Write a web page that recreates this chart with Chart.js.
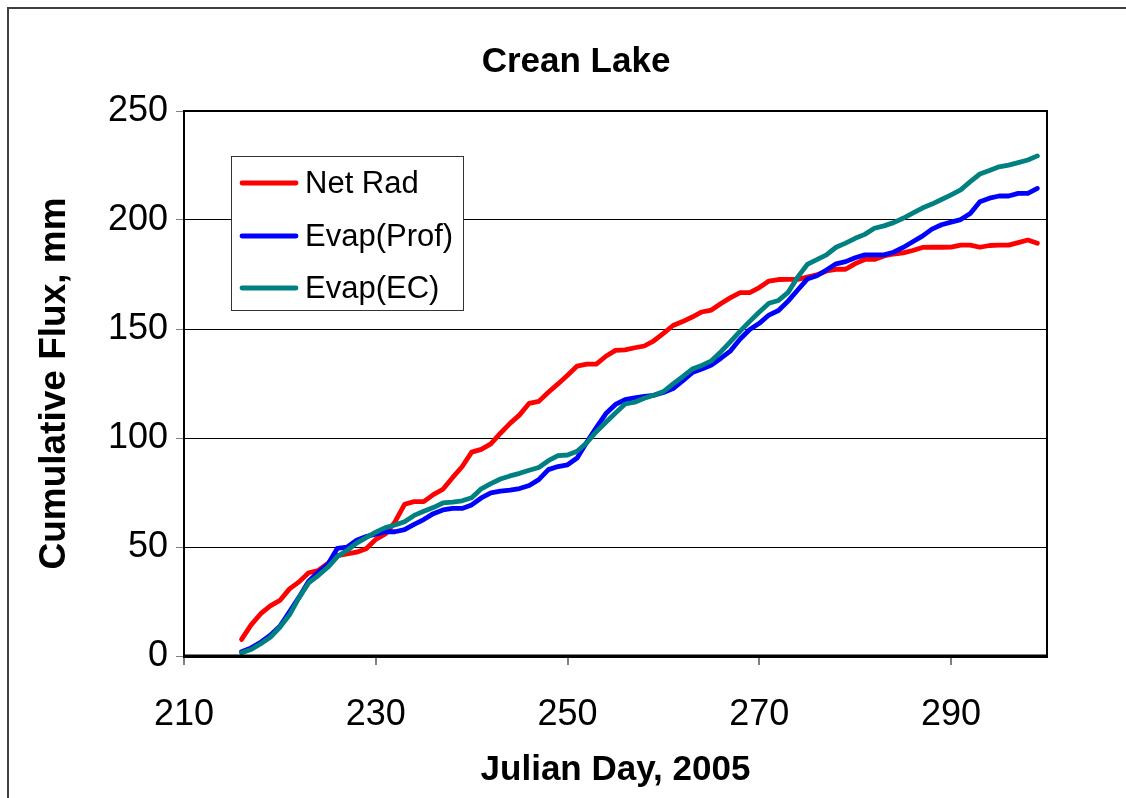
<!DOCTYPE html>
<html>
<head>
<meta charset="utf-8">
<script src="https://cdn.jsdelivr.net/npm/chart.js@4.4.1/dist/chart.umd.min.js"></script>
<style>
  html, body { margin: 0; padding: 0; background: #ffffff; }
  #wrap { width: 1126px; height: 798px; position: relative; }
</style>
</head>
<body>
<div id="wrap"><canvas id="c" width="1126" height="798"></canvas></div>
<script>
const chartTitle = "Crean Lake";
const xTitle = "Julian Day, 2005";
const yTitle = "Cumulative Flux, mm";
const seriesNames = ["Net Rad", "Evap(Prof)", "Evap(EC)"];
const seriesColors = ["#FF0000", "#0000FF", "#008080"];
const xTicks = [210, 230, 250, 270, 290];
const yTicks = [0, 50, 100, 150, 200, 250];

const days = [216,217,218,219,220,221,222,223,224,225,226,227,228,229,230,231,232,233,234,235,236,237,238,239,240,241,242,243,244,245,246,247,248,249,250,251,252,253,254,255,256,257,258,259,260,261,262,263,264,265,266,267,268,269,270,271,272,273,274,275,276,277,278,279,280,281,282,283,284,285,286,287,288,289,290,291,292,293,294,295,296,297,298,299];

const netRad = [7.6,14.3,19.4,23,25.5,30.8,34,38.2,39.2,42.5,46,46.8,47.6,49.2,53.5,56,61.5,69.6,70.8,70.8,74,76.5,81.8,86.8,93.5,94.8,97.3,102.2,106.7,110.6,115.9,116.8,121,124.8,128.8,133,133.9,133.9,137.5,140.2,140.4,141.4,142.2,144.6,148,151.6,153.4,155.5,157.8,158.7,161.7,164.4,166.7,166.7,169,172,172.7,172.8,172.8,173.8,174.8,176.6,177.4,177.4,180,181.9,181.9,183.5,184.4,184.9,186,187.4,187.5,187.5,187.6,188.5,188.5,187.5,188.3,188.5,188.5,189.6,190.8,189.3];

const evapProf = [2.0,3.7,6.3,9.5,13.6,20.3,27,34.3,38.4,42,49.4,49.9,53.1,54.8,55.9,57,57,58,60.4,62.6,65.3,67,67.7,67.7,69.3,72.5,74.8,75.6,76.1,76.8,78.2,80.9,85.5,86.9,87.7,90.8,98,104.8,111.2,115.4,117.6,118.4,119.1,119.6,120.9,122.7,126.2,130,131.6,133.5,136.6,140,145.4,149.8,152.6,156.4,158.5,162.8,167.9,172.9,174.4,177.1,179.9,180.9,182.7,184,184,184,185.2,187.4,190,192.6,195.8,197.8,199,200.2,203,208.4,210,211,211,212.2,212.2,214.5];

const evapEC = [1.5,3.0,5.6,8.6,13.2,18.9,26.8,33.5,36.9,40.7,45.6,48.4,51.8,54.3,56.8,58.9,60.1,61.6,64.5,66.4,68.1,70.2,70.6,71.2,72.6,76.7,79.1,81.2,82.6,83.8,85.2,86.5,89.6,91.9,92.2,93.9,97.8,102.9,107.2,111.5,115.6,116.4,118.2,119.6,121.3,124.8,128.1,131.6,133.3,135.4,139.6,144.2,149,153.5,157.8,161.8,163.1,166.8,173.8,179.6,181.8,184,187.5,189.4,191.6,193.4,196.2,197.3,198.8,200.8,203.2,205.5,207.3,209.4,211.5,213.8,217.6,221.1,222.7,224.4,225.2,226.3,227.5,229.4];

const FONT = "'Liberation Sans', Arial, Helvetica, sans-serif";
const allSeries = [netRad, evapProf, evapEC];

const datasets = allSeries.map((vals, i) => ({
  label: seriesNames[i],
  data: days.map((d, k) => ({ x: d, y: vals[k] })),
  borderColor: seriesColors[i],
  backgroundColor: seriesColors[i],
  borderWidth: 4.8,
  borderJoinStyle: 'round',
  borderCapStyle: 'round',
  pointRadius: 0,
  tension: 0,
  fill: false,
  order: [2, 1, 0][i]
}));

const framePlugin = {
  id: 'frame',
  beforeDraw(chart) {
    const ctx = chart.ctx;
    ctx.save();
    ctx.fillStyle = '#ffffff';
    ctx.fillRect(0, 0, chart.width, chart.height);
    ctx.strokeStyle = '#404040';
    ctx.lineWidth = 2;
    ctx.strokeRect(8, 8, 1140, 820);
    ctx.restore();
  },
  afterDatasetsDraw(chart) {
    const ctx = chart.ctx;
    const a = chart.chartArea;
    ctx.save();
    ctx.strokeStyle = '#000000';
    ctx.lineWidth = 2;
    ctx.strokeRect(a.left, a.top, a.right - a.left, a.bottom - a.top);
    ctx.lineWidth = 3;
    ctx.beginPath();
    ctx.moveTo(a.left, a.bottom);
    ctx.lineTo(a.right, a.bottom);
    ctx.stroke();
    ctx.restore();
  },
  afterDraw(chart) {
    const ctx = chart.ctx;
    ctx.save();
    ctx.fillStyle = '#000000';
    ctx.font = "bold 35px " + FONT;
    ctx.textAlign = 'center';
    ctx.textBaseline = 'middle';
    ctx.fillText(chartTitle, 576, 62);
    const bx = 231, by = 156, bw = 232, bh = 154;
    ctx.fillStyle = '#ffffff';
    ctx.fillRect(bx, by, bw, bh);
    ctx.strokeStyle = '#333333';
    ctx.lineWidth = 1;
    ctx.strokeRect(bx + 0.5, by + 0.5, bw, bh);
    const rows = [183, 236, 288];
    ctx.font = "31px " + FONT;
    ctx.textAlign = 'left';
    ctx.textBaseline = 'middle';
    seriesNames.forEach((name, i) => {
      ctx.strokeStyle = seriesColors[i];
      ctx.lineWidth = 4.8;
      ctx.lineCap = 'round';
      ctx.beginPath();
      ctx.moveTo(242, rows[i]);
      ctx.lineTo(296, rows[i]);
      ctx.stroke();
      ctx.fillStyle = '#000000';
      ctx.fillText(name, 305, rows[i] + 1);
    });
    ctx.restore();
  }
};

new Chart(document.getElementById('c'), {
  type: 'line',
  data: { datasets },
  options: {
    responsive: false,
    animation: false,
    devicePixelRatio: 1,
    layout: { padding: { top: 111, right: 79, left: 0, bottom: 0 } },
    plugins: {
      legend: { display: false },
      title: { display: false },
      tooltip: { enabled: false }
    },
    scales: {
      x: {
        type: 'linear',
        min: 210,
        max: 300,
        afterBuildTicks: s => { s.ticks = xTicks.map(v => ({ value: v })); },
        afterFit: s => { s.height = 142; },
        grid: { display: true, drawOnChartArea: false, drawTicks: true, tickLength: 9, tickColor: '#808080', color: '#808080', lineWidth: 2 },
        border: { display: true, color: '#000000', width: 3 },
        ticks: { color: '#000000', font: { family: FONT, size: 36 }, padding: 28, maxRotation: 0, autoSkip: false },
        title: { display: true, text: xTitle, color: '#000000', font: { family: FONT, size: 35, weight: 'bold' }, padding: { top: 0, bottom: 7 } }
      },
      y: {
        type: 'linear',
        min: 0,
        max: 250,
        afterBuildTicks: s => { s.ticks = yTicks.map(v => ({ value: v })); },
        afterFit: s => { s.width = 184; },
        grid: { display: true, drawOnChartArea: true, drawTicks: true, tickLength: 8, tickColor: '#808080', color: '#000000', lineWidth: 1 },
        border: { display: true, color: '#000000', width: 2 },
        ticks: { color: '#000000', font: { family: FONT, size: 36 }, padding: 8 },
        title: { display: true, text: yTitle, color: '#000000', font: { family: FONT, size: 37, weight: 'bold' }, padding: { top: 33, bottom: 0 } }
      }
    }
  },
  plugins: [framePlugin]
});
</script>
</body>
</html>
